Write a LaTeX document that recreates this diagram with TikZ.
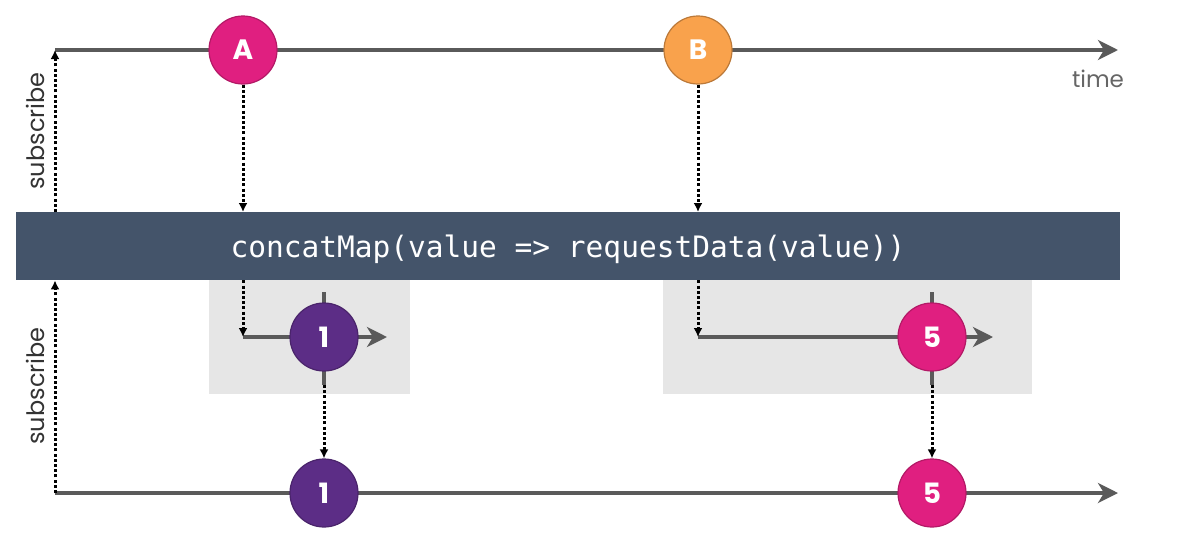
\documentclass[tikz,border=0pt]{standalone}
\usepackage{fontspec}
\setmainfont{Poppins}
\newfontfamily\codefont{DejaVu Sans Mono}
\usetikzlibrary{arrows.meta}
\definecolor{linegray}{HTML}{5A5A5A}
\definecolor{magA}{HTML}{E01F80}
\definecolor{orangeB}{HTML}{F9A24C}
\definecolor{purpleC}{HTML}{5C2D86}
\definecolor{barblue}{HTML}{44546A}
\definecolor{boxgray}{HTML}{E6E6E6}
\definecolor{timegray}{HTML}{666666}
\begin{document}
\begin{tikzpicture}[x=1pt,y=-1pt,
  timeline/.style={draw=linegray, line width=4pt, -{Stealth[length=20pt,width=20pt,inset=6pt]}},
  emit/.style={black, line width=3pt, dash pattern=on 3pt off 2.2pt, -{Latex[length=9pt,width=9pt]}},
  tick/.style={draw=linegray, line width=4pt},
  marble/.style={circle, minimum size=68pt, inner sep=0pt, line width=1.2pt, text=white, font=\bfseries\fontsize{28}{28}\selectfont},
  lbl/.style={text=timegray, font=\fontsize{23}{23}\selectfont}
]
\useasboundingbox (0,0) rectangle (1199,541);
% top timeline
\coordinate (t0) at (55,50);
\coordinate (t1) at (1118,50);
\draw[timeline] (t0) -- (t1);
\node[lbl] (time) at (1098,79) {time};
% operator bar
\node[fill=barblue, anchor=north west, minimum width=1104pt, minimum height=68pt, inner sep=0pt] (op) at (16,212) {};
\node[text=white, font=\codefont\fontsize{29.5}{29.5}\selectfont, inner sep=0pt] (optext) at (568,249) {concatMap(value => requestData(value))};
% inner boxes
\node[fill=boxgray, anchor=north west, minimum width=201pt, minimum height=114pt, inner sep=0pt] (box1) at (209,280) {};
\node[fill=boxgray, anchor=north west, minimum width=369pt, minimum height=114pt, inner sep=0pt] (box2) at (663,280) {};
% bottom timeline
\coordinate (b0) at (55,493);
\coordinate (b1) at (1118,493);
\draw[timeline] (b0) -- (b1);
% inner timelines
\coordinate (i1s) at (243,337);
\coordinate (i1e) at (387,337);
\coordinate (i2s) at (698,337);
\coordinate (i2e) at (993,337);
\draw[timeline] (i1s) -- (i1e);
\draw[timeline] (i2s) -- (i2e);
\coordinate (k1a) at (324,292);
\coordinate (k1b) at (324,385);
\coordinate (k2a) at (932,292);
\coordinate (k2b) at (932,385);
\draw[tick] (k1a) -- (k1b);
\draw[tick] (k2a) -- (k2b);
% marbles
\node[marble, fill=magA, draw=magA!80!black] (A) at (243,50) {A};
\node[marble, fill=orangeB, draw=orangeB!75!black] (B) at (698,50) {B};
\node[marble, fill=purpleC, draw=purpleC!80!black] (c1) at (324,337) {1};
\node[marble, fill=magA, draw=magA!80!black] (c5) at (932,337) {5};
\node[marble, fill=purpleC, draw=purpleC!80!black] (o1) at (324,493) {1};
\node[marble, fill=magA, draw=magA!80!black] (o5) at (932,493) {5};
% emissions
\draw[emit] (A.south) -- (A |- op.north);
\draw[emit] (B.south) -- (B |- op.north);
\draw[emit] (A |- op.south) -- (i1s);
\draw[emit] (B |- op.south) -- (i2s);
\draw[emit] (k1b) -- (o1.north);
\draw[emit] (k2b) -- (o5.north);
% subscriptions
\draw[emit] (t0 |- op.north) -- (t0);
\draw[emit] (b0) -- (b0 |- op.south);
\node[lbl, text=black!80, font=\fontsize{24}{24}\selectfont, rotate=90] (sub1) at (35,131) {subscribe};
\node[lbl, text=black!80, font=\fontsize{24}{24}\selectfont, rotate=90] (sub2) at (35,386) {subscribe};
\end{tikzpicture}
\end{document}
